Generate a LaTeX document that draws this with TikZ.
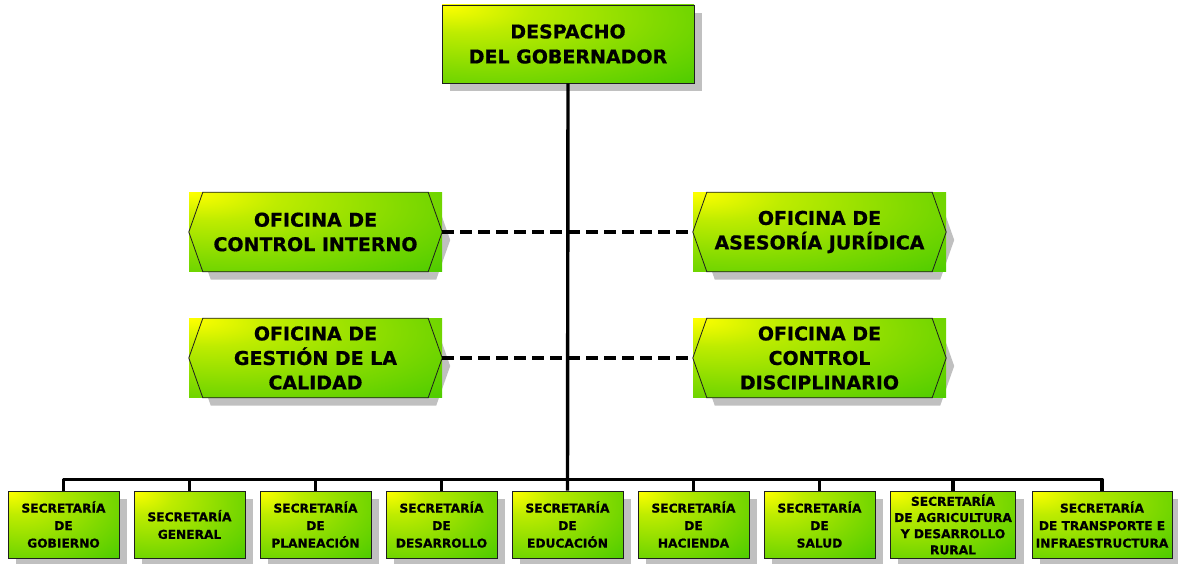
\documentclass[tikz,border=0pt]{standalone}
\usepackage{fontspec}
\setmainfont{DejaVu Sans}
\newfontfamily\heavy{DejaVu Sans Bold}[FakeBold=0.7]
\pgfdeclarelayer{bg}
\pgfsetlayers{bg,main}
\definecolor{yl}{RGB}{255,255,0}
\definecolor{lm}{RGB}{190,236,0}
\definecolor{gm}{RGB}{130,218,0}
\definecolor{gr}{RGB}{70,202,0}
\definecolor{shd}{RGB}{192,192,192}
\definecolor{edge}{RGB}{30,30,30}
\pgfdeclareradialshading{cornershade}{\pgfpoint{-25bp}{25bp}}{color(0bp)=(yl); color(14bp)=(lm); color(34bp)=(gm); color(55bp)=(gr); color(100bp)=(gr)}
\newcommand\hexof[2]{([shift={#2}]#1.west) -- ([shift={#2},xshift=14pt]#1.north west) -- ([shift={#2},xshift=-14pt]#1.north east) -- ([shift={#2}]#1.east) -- ([shift={#2},xshift=-14pt]#1.south east) -- ([shift={#2},xshift=14pt]#1.south west) -- cycle}
\begin{document}
\begin{tikzpicture}[x=1pt,y=-1pt,
  topbox/.style={shade, shading=cornershade, draw=edge, line width=0.8pt, minimum width=252pt, minimum height=78pt, inner sep=0pt, align=center, font=\fontsize{19}{25}\selectfont\heavy},
  offbox/.style={shade, shading=cornershade, minimum width=253pt, minimum height=79pt, inner sep=0pt, align=center, font=\fontsize{19}{24.5}\selectfont\heavy},
  secbox/.style={shade, shading=cornershade, draw=edge, line width=0.8pt, minimum width=111pt, minimum height=67pt, inner sep=0pt, align=center, font=\fontsize{12.2}{17.5}\selectfont\heavy},
  conn/.style={line width=3.4pt, line join=round},
  dashconn/.style={line width=3.4pt, dash pattern=on 12pt off 6pt},
  hexline/.style={draw=edge, line width=0.8pt},
  shadowfill/.style={fill=shd}]
\useasboundingbox (0,0) rectangle (1178,564);

% top
\node[topbox] (top) at (568,44) {DESPACHO\\DEL GOBERNADOR};

% offices
\node[offbox] (o1) at (315.5,232) {OFICINA DE\\CONTROL INTERNO};
\node[offbox] (o2) at (819.5,232) {OFICINA DE\\ASESORÍA JURÍDICA};
\node[offbox] (o3) at (315.5,358) {OFICINA DE\\GESTIÓN DE LA\\CALIDAD};
\node[offbox] (o4) at (819.5,358) {OFICINA DE\\CONTROL\\DISCIPLINARIO};
\foreach \o in {o1,o2,o3,o4}{\draw[hexline] \hexof{\o}{(0,0)};}

% secretarias
\node[secbox] (s1) at (63.5,524.5) {SECRETARÍA\\DE\\GOBIERNO};
\node[secbox] (s2) at (189.5,524.5) {SECRETARÍA\\GENERAL};
\node[secbox] (s3) at (315.5,524.5) {SECRETARÍA\\DE\\PLANEACIÓN};
\node[secbox] (s4) at (441.5,524.5) {SECRETARÍA\\DE\\DESARROLLO};
\node[secbox] (s5) at (567.5,524.5) {SECRETARÍA\\DE\\EDUCACIÓN};
\node[secbox] (s6) at (693.5,524.5) {SECRETARÍA\\DE\\HACIENDA};
\node[secbox] (s7) at (819.5,524.5) {SECRETARÍA\\DE\\SALUD};
\node[secbox, minimum width=125pt, font=\fontsize{12.2}{16.2}\selectfont\heavy] (s8) at (953,524.5) {SECRETARÍA\\DE AGRICULTURA\\Y DESARROLLO\\RURAL};
\node[secbox, minimum width=140pt] (s9) at (1102,524.5) {SECRETARÍA\\DE TRANSPORTE E\\INFRAESTRUCTURA};

% shadows
\begin{pgfonlayer}{bg}
\foreach \n in {top,s1,s2,s3,s4,s5,s6,s7,s8,s9}{
  \fill[shadowfill] ([shift={(8,8)}]\n.north west) rectangle ([shift={(8,8)}]\n.south east);}
\foreach \o in {o1,o2,o3,o4}{\fill[shadowfill] \hexof{\o}{(8,8)};}
\end{pgfonlayer}

% connectors
\draw[conn] (top.south) -- (s5.north);
\draw[conn] (s1.north) -- ++(0,-11) -| (s9.north);
\foreach \k in {2,3,4,6,7,8}{\draw[conn] (s\k.north) -- ++(0,-11);}
\draw[dashconn] (o1.east) -- (o2.west);
\draw[dashconn] (o3.east) -- (o4.west);
\end{tikzpicture}
\end{document}
